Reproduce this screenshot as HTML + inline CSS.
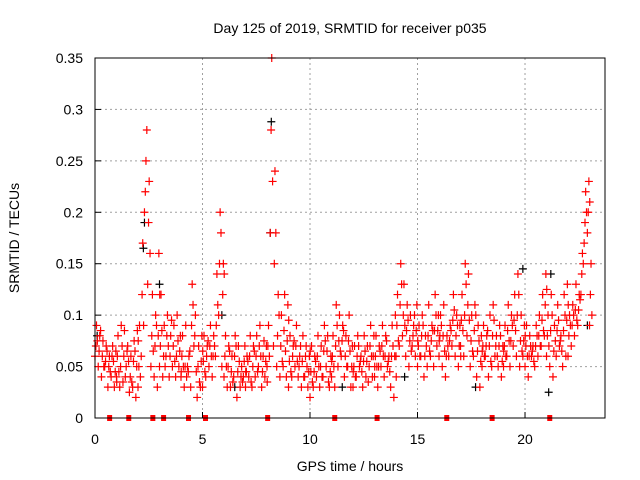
<!DOCTYPE html>
<html><head><meta charset="utf-8"><style>
html,body{margin:0;padding:0;background:#fff}
svg{display:block;font-family:"Liberation Sans",sans-serif}
</style></head><body>
<svg id="chart" width="640" height="480" viewBox="0 0 640 480"></svg>
<script>
const xTicks=[0,5,10,15,20];
const yTicks=[0,0.05,0.1,0.15,0.2,0.25,0.3,0.35];
const yTickLabels=["0","0.05","0.1","0.15","0.2","0.25","0.3","0.35"];
const hourOffsets=[0,0.15,0.3,0.45,0.6,0.75,0.9];
const redLow=[.06,.05,.04,.05,.03,.04,.03, .04,.03,.035,.05,.025,.03,.02, .03,.06,.20,.13,.05,.04,.03, .05,.04,.06,.04,.05,.04,.05, .04,.03,.05,.03,.07,.02,.03, .03,.04,.05,.04,.06,.10,.05, .04,.03,.03,.04,.02,.03,.04, .03,.04,.03,.04,.05,.03,.04, .05,.18,.07,.05,.04,.05,.04, .03,.04,.05,.04,.03,.04,.03, .02,.03,.04,.03,.04,.05,.03, .04,.03,.05,.06,.04,.05,.03, .03,.04,.05,.03,.04,.05,.04, .04,.03,.05,.04,.05,.03,.02, .06,.07,.08,.06,.05,.07,.06, .05,.06,.04,.05,.06,.05,.07, .06,.05,.04,.06,.07,.06,.05, .07,.06,.08,.05,.06,.04,.03, .05,.06,.04,.05,.06,.05,.04, .05,.06,.05,.07,.06,.05,.06, .05,.04,.06,.05,.06,.07,.08, .06,.05,.04,.06,.07,.05,.06, .06,.07,.08,.09,.12,.17,.18, .09];
const redHigh=[.09,.08,.075,.07,.06,.07,.065, .08,.09,.085,.07,.06,.075,.085, .09,.17,.25,.23,.12,.10,.16, .12,.09,.10,.08,.09,.10,.08, .08,.09,.06,.13,.10,.07,.08, .08,.07,.09,.08,.14,.20,.15, .08,.07,.06,.08,.07,.05,.07, .06,.08,.07,.08,.09,.06,.07, .09,.35,.24,.12,.10,.12,.11, .08,.07,.09,.06,.08,.07,.06, .07,.06,.08,.07,.09,.08,.06, .08,.11,.10,.09,.08,.10,.07, .07,.08,.06,.08,.07,.09,.08, .08,.07,.09,.08,.06,.09,.10, .12,.15,.13,.11,.10,.09,.11, .09,.10,.08,.11,.09,.12,.10, .10,.11,.08,.09,.12,.10,.09, .12,.15,.14,.10,.11,.09,.08, .09,.08,.10,.11,.08,.09,.07, .09,.11,.10,.12,.14,.10,.09, .09,.08,.07,.09,.10,.12,.14, .10,.12,.09,.11,.08,.12,.13, .10,.11,.13,.12,.16,.22,.23, .15];
const redMid=[.07,.065,.06,.055,.05,.06,.045, .06,.05,.06,.065,.04,.055,.05, .05,.12,.22,.19,.08,.07,.08, .07,.06,.08,.06,.07,.06,.065, .06,.05,.045,.09,.08,.05,.055, .055,.06,.07,.06,.09,.15,.12, .06,.05,.045,.06,.045,.04,.055, .045,.06,.05,.06,.07,.045,.055, .07,.28,.15,.08,.07,.085,.075, .055,.06,.07,.05,.055,.06,.045, .045,.045,.06,.05,.065,.065,.045, .06,.07,.075,.075,.06,.075,.05, .05,.06,.055,.055,.055,.07,.06, .06,.05,.07,.06,.055,.06,.06, .09,.11,.10,.085,.075,.08,.085, .07,.08,.06,.08,.075,.085,.085, .08,.08,.06,.075,.095,.08,.07, .095,.10,.11,.075,.085,.065,.055, .07,.07,.07,.08,.07,.07,.055, .07,.085,.075,.095,.10,.075,.075, .07,.06,.065,.07,.08,.095,.11, .08,.085,.065,.085,.075,.085,.095, .08,.09,.105,.105,.14,.19,.20, .12];
const redExtra=[.075,.085,.05,.065,.045,.055,.035, .045,.07,.04,.055,.035,.065,.075, .04,.09,.28,.16,.065,.09,.12, .085,.05,.07,.095,.055,.075,.045, .05,.04,.065,.11,.045,.035,.065, .045,.075,.06,.07,.11,.18,.14, .05,.065,.035,.07,.055,.035,.045, .055,.035,.065,.045,.06,.075,.035, .06,.23,.18,.10,.055,.065,.095, .045,.075,.055,.07,.04,.05,.065, .035,.055,.05,.04,.075,.035,.055, .05,.09,.065,.085,.05,.065,.045, .04,.07,.045,.065,.035,.06,.05, .05,.065,.06,.075,.045,.07,.04, .075,.13,.09,.095,.065,.10,.075, .06,.09,.07,.065,.085,.10,.075, .09,.065,.07,.085,.105,.09,.06, .085,.13,.095,.065,.10,.075,.065, .06,.085,.055,.095,.06,.08,.065, .06,.075,.09,.085,.12,.065,.08, .06,.07,.055,.08,.07,.085,.125, .07,.10,.075,.095,.065,.10,.11, .09,.10,.095,.115,.15,.20,.21, .10];
const blackTimes=[8.2,8.15,2.3,2.25,3.0,5.9,19.9,21.2,22.9,21.1,14.4,11.5,17.7,0.1,6.5];
const blackValues=[.288,.18,.19,.165,.13,.10,.145,.14,.09,.025,.04,.03,.03,.08,.03];
const zeroTimes=[0.68,1.57,2.69,3.19,4.35,5.14,8.03,11.15,13.12,16.36,18.47,21.15];

const L=95,R=605,T=58,B=418,XMAX=23.72,YMAX=0.35;
const xs=v=>L+v/XMAX*(R-L);
const ys=v=>B-v/YMAX*(B-T);
const svg=document.getElementById('chart');
const NS='http://www.w3.org/2000/svg';
function mk(tag,attrs,parent){const e=document.createElementNS(NS,tag);for(const k in attrs)e.setAttribute(k,attrs[k]);(parent||svg).appendChild(e);return e;}

const grid=mk('g',{stroke:'#a0a0a0','stroke-width':1,'stroke-dasharray':'2,3'});


yTicks.forEach((v,i)=>{
  if(i>0&&i<yTicks.length-1){mk('line',{x1:L,x2:R,y1:ys(v),y2:ys(v)},grid);}
  const tk=mk('line',{x1:L,x2:L+6,y1:ys(v),y2:ys(v),stroke:'#000'});
  
  
  const t=mk('text',{x:L-12,y:ys(v)+5,'text-anchor':'end','font-size':14,fill:'#000'});
  t.textContent=yTickLabels[i];
  
  
});
xTicks.forEach(v=>{
  if(v>0) mk('line',{x1:xs(v),x2:xs(v),y1:T,y2:B},grid);
  const tk=mk('line',{x1:xs(v),x2:xs(v),y1:B,y2:B-6,stroke:'#000'});
  
  
  const t=mk('text',{x:xs(v),y:B+26,'text-anchor':'middle','font-size':14,fill:'#000'});
  t.textContent=String(v);
  
  
});

function plus(g,x,y,c){mk('path',{d:`M${x-4},${y}h8M${x},${y-4}v8`,stroke:c,'stroke-width':1.2,fill:'none'},g);}
const bg=mk('g',{});


blackTimes.forEach((t,i)=>plus(bg,xs(t),ys(blackValues[i]),'#000'));
const rg=mk('g',{});


redLow.forEach((v,i)=>{
  const t=Math.floor(i/7)+hourOffsets[i%7];
  plus(rg,xs(t),ys(v),'#ff0000');
  plus(rg,xs(t+0.07),ys(redHigh[i]),'#ff0000');
  plus(rg,xs(t+0.04),ys(redMid[i]),'#ff0000');
  plus(rg,xs(t+0.11),ys(redExtra[i]),'#ff0000');
});
const zg=mk('g',{fill:'#ff0000'});


zeroTimes.forEach(t=>mk('rect',{x:xs(t)-2.5,y:B-3,width:5,height:6},zg));

const frame=mk('rect',{x:L,y:T,width:R-L,height:B-T,fill:'none',stroke:'#000','stroke-width':1});



const title=mk('text',{x:350,y:33,'text-anchor':'middle','font-size':14,fill:'#000'});
title.textContent='Day 125 of 2019, SRMTID for receiver p035';


const xl=mk('text',{x:350,y:471,'text-anchor':'middle','font-size':14,fill:'#000'});
xl.textContent='GPS time / hours';


const yl=mk('text',{x:0,y:0,'text-anchor':'middle','font-size':14,fill:'#000',transform:'translate(19,238) rotate(-90)'});
yl.textContent='SRMTID / TECUs';


</script>
</body></html>
